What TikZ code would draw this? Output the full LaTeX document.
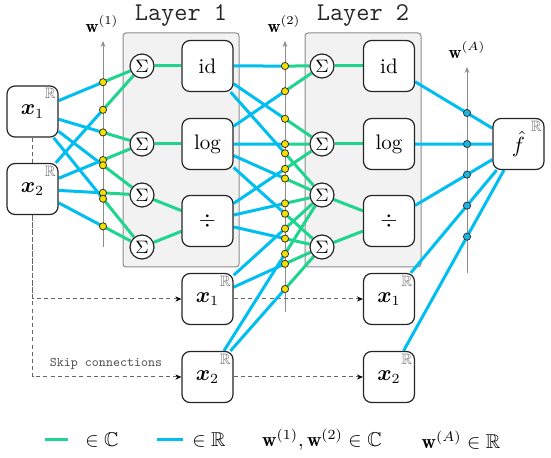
\documentclass[tikz,border=0pt]{standalone}
\usepackage{fontspec}
\usepackage{amsmath}
\usepackage{amssymb}
\usepackage{tikz}
\usetikzlibrary{arrows.meta}

\definecolor{cplxgreen}{HTML}{1FD48C}
\definecolor{realblue}{HTML}{00BEEF}
\definecolor{dotyellow}{HTML}{F2E000}
\definecolor{dotblue}{HTML}{1AB6E4}
\definecolor{layergray}{HTML}{F2F2F2}

\pgfdeclarelayer{bg}
\pgfdeclarelayer{mid}
\pgfsetlayers{bg,mid,main}

% line through a weight axis: real part before the dot, #4 after it
\newcommand{\wlink}[5]{%
  \coordinate (wx) at (intersection of #1--#2 and #3b--#3t);
  \begin{pgfonlayer}{mid}
    \draw[rline] (#1) -- (wx);
    \draw[#4] (wx) -- (#2);
  \end{pgfonlayer}
  \node[#5] at (wx) {};
}

\begin{document}
\begin{tikzpicture}[x=0.5pt,y=-0.5pt,
    fnbox/.style={draw=black!85, line width=0.6pt, rounded corners=4pt, fill=white,
      minimum size=25.5pt, inner sep=0pt, font=\fontsize{10.5}{12}\selectfont},
    rset/.style={label={[anchor=north east, inner sep=1.2pt, text=black!55,
      font=\fontsize{7.5}{8}\selectfont]north east:$\mathbb{R}$}},
    sig/.style={draw=black!85, line width=0.6pt, circle, fill=white, minimum size=12pt,
      inner sep=0pt, font=\fontsize{9.5}{10}\selectfont},
    cline/.style={cplxgreen, line width=1.5pt},
    rline/.style={realblue, line width=1.5pt},
    ydot/.style={circle, draw=black!80, line width=0.4pt, fill=dotyellow,
      minimum size=3.6pt, inner sep=0pt},
    bdot/.style={ydot, fill=dotblue},
    waxis/.style={black!45, line width=0.5pt, -{Stealth[length=3pt,width=2.4pt]}},
    skiparrow/.style={black!60, line width=0.5pt, dash pattern=on 2pt off 1.6pt,
      -{Stealth[length=3pt,width=2.6pt,black]}},
    layerbox/.style={draw=black!45, line width=0.5pt, fill=layergray, rounded corners=1.5pt},
    ttl/.style={font=\ttfamily\fontsize{12.8}{14}\selectfont, text=black!85}
  ]
  \useasboundingbox (0,0) rectangle (551,458);

  % weight axes
  \coordinate (w1b) at (103,247); \coordinate (w1t) at (103,41);
  \coordinate (w2b) at (285,312); \coordinate (w2t) at (285,41);
  \coordinate (wAb) at (467,273); \coordinate (wAt) at (467,67);

  % inputs
  \node[fnbox,rset] (in1) at (32.5,111.5) {$\boldsymbol{x}_1$};
  \node[fnbox,rset] (in2) at (32.5,189) {$\boldsymbol{x}_2$};

  % layer 1
  \foreach \i/\y in {1/66,2/144,3/195,4/247}
    \node[sig] (sa\i) at (142,\y) {$\Sigma$};
  \node[fnbox] (fa1) at (207.5,66) {id};
  \node[fnbox] (fa2) at (207.5,144) {log};
  \node[fnbox] (fa3) at (207.5,221) {$\div$};
  \node[fnbox,rset] (ka1) at (207.5,299) {$\boldsymbol{x}_1$};
  \node[fnbox,rset] (ka2) at (207.5,377) {$\boldsymbol{x}_2$};

  % layer 2
  \foreach \i/\y in {1/66,2/144,3/195,4/247}
    \node[sig] (sb\i) at (322,\y) {$\Sigma$};
  \node[fnbox] (fb1) at (389,66) {id};
  \node[fnbox] (fb2) at (389,144) {log};
  \node[fnbox] (fb3) at (389,221) {$\div$};
  \node[fnbox,rset] (kb1) at (389,299) {$\boldsymbol{x}_1$};
  \node[fnbox,rset] (kb2) at (389,377) {$\boldsymbol{x}_2$};

  % output
  \node[fnbox,rset] (out) at (518.5,144) {\raisebox{-2.4pt}{$\hat{f}$}\hspace{3pt}};

  % titles and axis labels
  \node[ttl] (t1) at (181,15) {Layer 1};
  \node[ttl] (t2) at (363,15) {Layer 2};
  \node[font=\fontsize{9}{10}\selectfont] (lw1) at (102,24) {$\mathbf{w}^{(1)}$};
  \node[font=\fontsize{9}{10}\selectfont] (lw2) at (284,24) {$\mathbf{w}^{(2)}$};
  \node[font=\fontsize{9}{10}\selectfont] (lwA) at (467,50) {$\mathbf{w}^{(A)}$};
  \node[font=\ttfamily\fontsize{6.6}{8}\selectfont, text=black!65] (sk) at (106,364) {Skip connections};

  \begin{pgfonlayer}{bg}
    \draw[layerbox] (123,33) rectangle (239,267);
    \draw[layerbox] (305,33) rectangle (421,267);
    \draw[waxis] (w1b) -- (w1t);
    \draw[waxis] (w2b) -- (w2t);
    \draw[waxis] (wAb) -- (wAt);
    % skip connections
    \draw[skiparrow] (in1) |- (ka1);
    \draw[skiparrow] (in2) |- (ka2);
    \draw[skiparrow] (ka1) -- (kb1);
    \draw[skiparrow] (ka2) -- (kb2);
  \end{pgfonlayer}

  % sums into functions
  \begin{pgfonlayer}{mid}
    \foreach \s/\f in {sa1/fa1,sa2/fa2,sa3/fa3,sa4/fa3,sb1/fb1,sb2/fb2,sb3/fb3,sb4/fb3}
      \draw[cline] (\s) -- (\f);
  \end{pgfonlayer}

  \foreach \a/\b in {in1/sa1,in2/sa1,in1/sa2,in2/sa2,in1/sa3,in2/sa3,in1/sa4,in2/sa4}
    {\wlink{\a}{\b}{w1}{cline}{ydot}}
  \foreach \a/\b in {fa1/sb1,fa2/sb1,fa1/sb2,fa2/sb2,fa3/sb2,fa1/sb3,fa2/sb3,fa3/sb3,
      ka1/sb3,ka2/sb3,fa2/sb4,fa3/sb4,ka1/sb4,ka2/sb4}
    {\wlink{\a}{\b}{w2}{cline}{ydot}}
  \foreach \a in {fb1,fb2,fb3,kb1,kb2}
    {\wlink{\a}{out}{wA}{rline}{bdot}}

  % legend
  \draw[cline] (45,440) -- (68,440);
  \node (lg1) at (102,440) {$\in\mathbb{C}$};
  \draw[rline] (157,440) -- (183,440);
  \node (lg2) at (209,440) {$\in\mathbb{R}$};
  \node (lg3) at (322,440) {$\mathbf{w}^{(1)},\mathbf{w}^{(2)}\in\mathbb{C}$};
  \node (lg4) at (461,440) {$\mathbf{w}^{(A)}\in\mathbb{R}$};
\end{tikzpicture}
\end{document}
